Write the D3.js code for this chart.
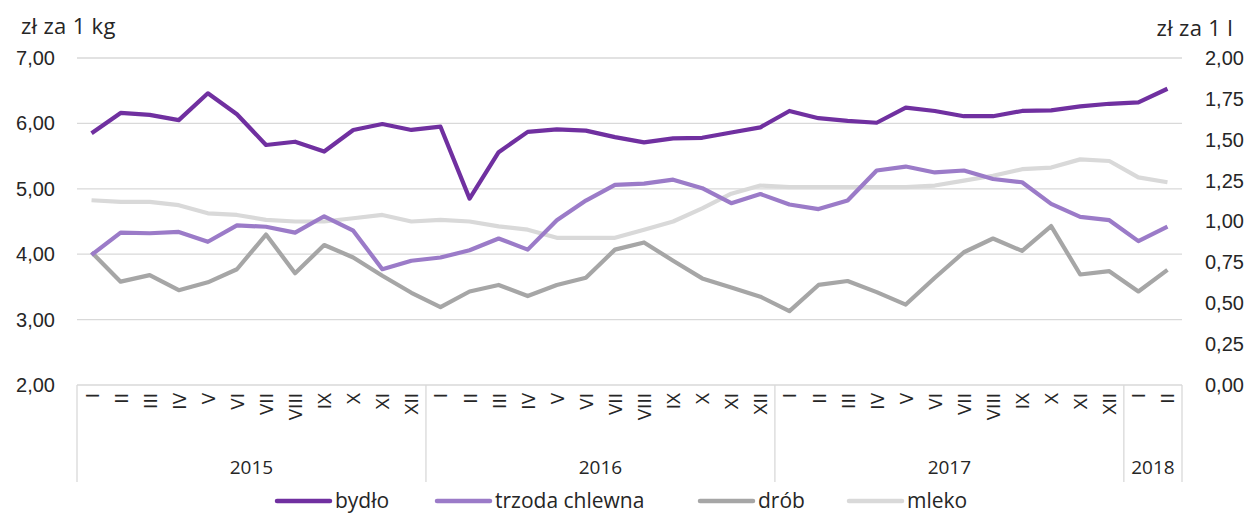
<!DOCTYPE html>
<html>
<head>
<meta charset="utf-8">
<script src="https://cdn.jsdelivr.net/npm/d3@7"></script>
<style>
  body { margin: 0; background: #fff; }
  svg { font-family: "Open Sans", Roboto, sans-serif; fill: #262626; }
  .tick text { font-size: 20px; fill: #262626; }
  .unit { font-size: 22px; letter-spacing: 0.3px; }
  .month { font-size: 19px; }
  .year { font-size: 19px; }
  .legend text { font-size: 21px; }
</style>
</head>
<body>
<script>
const MONTHS = ['I','II','III','IV','V','VI','VII','VIII','IX','X','XI','XII'];
const YEARS = [['2015', 12], ['2016', 12], ['2017', 12], ['2018', 2]];

// zł za 1 kg (lewa oś)
const bydlo = [5.85, 6.16, 6.13, 6.05, 6.46, 6.14, 5.67, 5.72, 5.57, 5.90, 5.99, 5.90,
               5.95, 4.85, 5.56, 5.87, 5.91, 5.89, 5.79, 5.71, 5.77, 5.78, 5.86, 5.94,
               6.19, 6.08, 6.04, 6.01, 6.24, 6.19, 6.11, 6.11, 6.19, 6.20, 6.26, 6.30,
               6.32, 6.53];
const trzoda = [3.99, 4.33, 4.32, 4.34, 4.19, 4.44, 4.42, 4.33, 4.58, 4.36, 3.77, 3.90,
                3.95, 4.06, 4.24, 4.07, 4.52, 4.82, 5.06, 5.08, 5.14, 5.01, 4.78, 4.92,
                4.76, 4.69, 4.82, 5.28, 5.34, 5.25, 5.28, 5.15, 5.10, 4.77, 4.57, 4.52,
                4.20, 4.42];
const drob = [4.03, 3.58, 3.68, 3.45, 3.57, 3.77, 4.30, 3.71, 4.14, 3.95, 3.67, 3.41,
              3.19, 3.43, 3.53, 3.36, 3.53, 3.64, 4.07, 4.18, 3.90, 3.63, 3.49, 3.35,
              3.13, 3.53, 3.59, 3.42, 3.23, 3.64, 4.03, 4.24, 4.05, 4.43, 3.69, 3.74,
              3.43, 3.76];
// zł za 1 l (prawa oś)
const mleko = [1.13, 1.12, 1.12, 1.10, 1.05, 1.04, 1.01, 1.00, 1.00, 1.02, 1.04, 1.00,
               1.01, 1.00, 0.97, 0.95, 0.90, 0.90, 0.90, 0.95, 1.00, 1.08, 1.17, 1.22,
               1.21, 1.21, 1.21, 1.21, 1.21, 1.22, 1.25, 1.28, 1.32, 1.33, 1.38, 1.37,
               1.27, 1.24];

const LEFT_TICKS = [2, 3, 4, 5, 6, 7];
const RIGHT_TICKS = [0, 0.25, 0.5, 0.75, 1, 1.25, 1.5, 1.75, 2];

const SERIES = [
  { name: 'bydło', values: bydlo, color: '#7030a0', axis: 'left' },
  { name: 'trzoda chlewna', values: trzoda, color: '#9b7bc8', axis: 'left' },
  { name: 'drób', values: drob, color: '#a6a6a6', axis: 'left' },
  { name: 'mleko', values: mleko, color: '#d9d9d9', axis: 'right' }
];

const width = 1250, height = 514;
const margin = { top: 58, right: 68, bottom: 129, left: 77 };
const fmt = v => d3.format('.2f')(v).replace('.', ',');

const labels = YEARS.flatMap(([y, n]) => MONTHS.slice(0, n).map(m => ({ year: y, month: m })));

const x = d3.scaleBand()
  .domain(d3.range(labels.length))
  .range([margin.left, width - margin.right]);
const yL = d3.scaleLinear().domain([2, 7]).range([height - margin.bottom, margin.top]);
const yR = d3.scaleLinear().domain([0, 2]).range([height - margin.bottom, margin.top]);
const cx = i => x(i) + x.bandwidth() / 2;

const svg = d3.select('body').append('svg')
  .attr('width', width)
  .attr('height', height);

// Gridlines
svg.append('g')
  .selectAll('line')
  .data(LEFT_TICKS.slice(1))
  .enter()
  .append('line')
  .attr('x1', margin.left)
  .attr('x2', width - margin.right)
  .attr('y1', d => yL(d))
  .attr('y2', d => yL(d))
  .attr('stroke', '#d9d9d9')
  .attr('stroke-width', 1.3);

// Left axis
const leftAxis = svg.append('g')
  .attr('transform', `translate(${margin.left - 20},0)`)
  .call(d3.axisLeft(yL).tickValues(LEFT_TICKS).tickFormat(fmt).tickSize(0).tickPadding(2));
leftAxis.select('.domain').remove();

// Right axis
const rightAxis = svg.append('g')
  .attr('transform', `translate(${width - margin.right + 21},0)`)
  .call(d3.axisRight(yR).tickValues(RIGHT_TICKS).tickFormat(fmt).tickSize(0).tickPadding(2));
rightAxis.select('.domain').remove();

svg.append('text').attr('class', 'unit')
  .attr('x', 21).attr('y', 34)
  .text('zł za 1 kg');
svg.append('text').attr('class', 'unit')
  .attr('x', 1233).attr('y', 36)
  .attr('text-anchor', 'end')
  .text('zł za 1 l');

// Category axis box
const baseY = height - margin.bottom;
const boxBottom = 482;
svg.append('line')
  .attr('x1', margin.left).attr('x2', width - margin.right)
  .attr('y1', baseY).attr('y2', baseY)
  .attr('stroke', '#d9d9d9').attr('stroke-width', 1.3);

let start = 0;
const bounds = [0];
YEARS.forEach(([, n]) => { start += n; bounds.push(start); });

svg.append('g')
  .selectAll('line')
  .data(bounds)
  .enter()
  .append('line')
  .attr('x1', d => d < labels.length ? x(d) : width - margin.right)
  .attr('x2', d => d < labels.length ? x(d) : width - margin.right)
  .attr('y1', baseY)
  .attr('y2', boxBottom)
  .attr('stroke', '#d9d9d9')
  .attr('stroke-width', 1.3);

svg.append('g')
  .selectAll('text')
  .data(labels)
  .enter()
  .append('text')
  .attr('class', 'month')
  .attr('transform', (d, i) => `translate(${cx(i) + 7},${baseY + 8}) rotate(-90)`)
  .attr('text-anchor', 'end')
  .text(d => d.month);

svg.append('g')
  .selectAll('text')
  .data(YEARS)
  .enter()
  .append('text')
  .attr('class', 'year')
  .attr('x', (d, i) => {
    const a = bounds[i], b = bounds[i + 1];
    const xa = x(a), xb = b < labels.length ? x(b) : width - margin.right;
    return (xa + xb) / 2;
  })
  .attr('y', 474)
  .attr('text-anchor', 'middle')
  .text(d => d[0]);

// Lines (draw light ones first)
const lines = svg.append('g').attr('fill', 'none');
[...SERIES].reverse().forEach(s => {
  const y = s.axis === 'left' ? yL : yR;
  lines.append('path')
    .datum(s.values)
    .attr('d', d3.line().x((_, i) => cx(i)).y(d => y(d)))
    .attr('stroke', s.color)
    .attr('stroke-width', 4.2)
    .attr('stroke-linejoin', 'round');
});

// Legend
const LEGEND_X = [277, 437, 700, 849];
const legend = svg.append('g').attr('class', 'legend');
const item = legend.selectAll('g')
  .data(SERIES)
  .enter()
  .append('g')
  .attr('transform', (d, i) => `translate(${LEGEND_X[i]},501)`);
item.append('line')
  .attr('x1', 0).attr('x2', 53)
  .attr('stroke', d => d.color)
  .attr('stroke-width', 4.5)
  .attr('stroke-linecap', 'round');
item.append('text')
  .attr('x', 58)
  .attr('dy', '0.33em')
  .text(d => d.name);
</script>
</body>
</html>
